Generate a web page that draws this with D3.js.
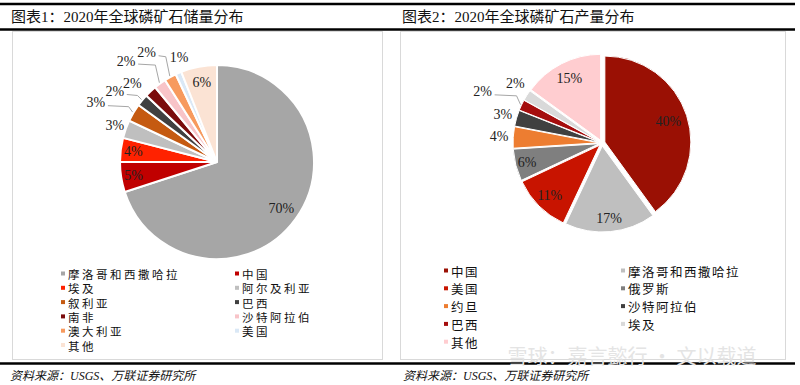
<!DOCTYPE html>
<html>
<head>
<meta charset="UTF-8">
<style>
body{ margin: 0; background: #fff; }
svg{ display: block; }
.title{ font-family: "Liberation Serif", "Noto Sans CJK SC"; font-size: 15px; fill: #111; }
.source{ font-family: "Liberation Serif", "Noto Sans CJK SC"; font-size: 12px; font-style: italic; fill: #111; }
.pct{ font-family: "Liberation Serif"; font-size: 14px; fill: #222; }
.legend text{ font-family: "Noto Sans CJK SC"; fill: #111; }
.frame{ fill: none; stroke: #d9d9d9; stroke-width: 1; }
.rule{ stroke: #000; stroke-width: 2.5; }
.leader{ fill: none; stroke: #a6a6a6; stroke-width: 1; }
.mark{ text-anchor: middle; font-family: "Noto Sans CJK SC"; font-size: 20px; fill: #e4e4e4; }
</style>
<script src="https://cdn.jsdelivr.net/npm/d3@7"></script>
</head>
<body>
<script>
// chart 1: reserves
var reserveCats = ["摩洛哥和西撒哈拉", "中国", "埃及", "阿尔及利亚", "叙利亚", "巴西", "南非", "沙特阿拉伯", "澳大利亚", "美国", "其他"];
var reserveShares = [70, 5, 4, 3, 3, 2, 2, 2, 2, 1, 6];
var reserveColors = ["#a6a6a6", "#c00000", "#ff2200", "#bfbfbf", "#c55a11", "#404040", "#7b0c0c", "#f8c4c8", "#f79a5e", "#dae8f6", "#fbe3d4"];
// label distance (x radius) and angle nudge (deg) per slice
var reserveLabelR = [0.82, 0.87, 0.87, 1.12, 1.39, 1.28, 1.19, 1.4, 1.34, 1.15, 0.83];
var reserveLabelA = [0, 0, 0, 0, -4.5, -5, -4, -6, -4, 3.5, 0];

// chart 2: output
var outputCats = ["中国", "摩洛哥和西撒哈拉", "美国", "俄罗斯", "约旦", "沙特阿拉伯", "巴西", "埃及", "其他"];
var outputShares = [40, 17, 11, 6, 4, 3, 2, 2, 15];
var outputColors = ["#9a1004", "#bfbfbf", "#c81400", "#7f7f7f", "#ed7d31", "#404040", "#a50d0d", "#d9d9d9", "#ffcdd0"];
var outputLabelR = [0.81, 0.88, 0.86, 0.9, 1.2, 1.2, 1.51, 1.22, 0.84];
var outputLabelA = [0, 0, 0, 0, 0, 0, -2, 2, 0];

var leaderMin = 1.25;

var svg = d3.select("body").append("svg")
	.attr("width", 800)
	.attr("height", 385);

// rules and frames
svg.append("line").attr("class", "rule").attr("x1", 0).attr("x2", 795).attr("y1", 4).attr("y2", 4);
svg.append("line").attr("class", "rule").attr("x1", 0).attr("x2", 795).attr("y1", 29.5).attr("y2", 29.5);
svg.append("line").attr("class", "rule").attr("x1", 0).attr("x2", 795).attr("y1", 363.5).attr("y2", 363.5);
svg.append("rect").attr("class", "frame").attr("x", 12.5).attr("y", 31.5).attr("width", 370).attr("height", 328);
svg.append("rect").attr("class", "frame").attr("x", 400.5).attr("y", 31.5).attr("width", 385).attr("height", 328);

svg.append("text").attr("class", "title").attr("x", 11).attr("y", 22).text("图表1：2020年全球磷矿石储量分布");
svg.append("text").attr("class", "title").attr("x", 402).attr("y", 22).text("图表2：2020年全球磷矿石产量分布");
svg.append("text").attr("class", "source").attr("x", 10).attr("y", 380).text("资料来源：USGS、万联证券研究所");
svg.append("text").attr("class", "source").attr("x", 403).attr("y", 380).text("资料来源：USGS、万联证券研究所");

function drawPie(opt){
	var rows = opt.cats.map(function(c, i){
		return {cat: c, value: opt.values[i], color: opt.colors[i], lr: opt.labelR[i], la: opt.labelA[i] * Math.PI / 180};
	});
	var pie = d3.pie().sort(null).value(function(d){ return d.value; });
	var arcs = pie(rows);
	var arc = d3.arc().innerRadius(0).outerRadius(opt.r);

	var g = svg.append("g")
		.attr("transform", "translate(" + opt.cx + "," + opt.cy + ")");

	function polar(a, rad){ return [Math.sin(a) * rad, -Math.cos(a) * rad]; }
	function mid(d){ return (d.startAngle + d.endAngle) / 2; }
	function labelPos(d){ return polar(mid(d) + d.data.la, d.data.lr * opt.r); }

	g.selectAll("path")
		.data(arcs)
		.enter().append("path")
		.attr("d", arc)
		.attr("fill", function(d){ return d.data.color; })
		.attr("stroke", "#fff")
		.attr("stroke-width", opt.stroke)
		.attr("transform", function(d){
			var p = polar(mid(d), opt.explode);
			return "translate(" + p[0] + "," + p[1] + ")";
		});

	// leader lines for the far labels
	g.selectAll("polyline")
		.data(arcs.filter(function(d){ return d.data.lr >= leaderMin; }))
		.enter().append("polyline")
		.attr("class", "leader")
		.attr("points", function(d){
			var s = labelPos(d);
			s = [s[0] + 12, s[1] + 3];
			var e = polar(mid(d), opt.r + opt.explode + 1);
			var m = [e[0] - 4, s[1] + 1];
			return [s, m, e].map(function(p){ return p.join(","); }).join(" ");
		});

	g.selectAll("text.pct")
		.data(arcs)
		.enter().append("text")
		.attr("class", "pct")
		.attr("text-anchor", "middle")
		.attr("dominant-baseline", "central")
		.attr("x", function(d){ return labelPos(d)[0]; })
		.attr("y", function(d){ return labelPos(d)[1]; })
		.text(function(d){ return d.value + "%"; });

	// legend, two columns filled row by row
	var lg = svg.append("g").attr("class", "legend");
	var items = lg.selectAll("g")
		.data(rows)
		.enter().append("g")
		.attr("transform", function(d, i){
			return "translate(" + opt.legendX[i % 2] + "," + (opt.legendY + Math.floor(i / 2) * opt.legendStep) + ")";
		});
	items.append("rect")
		.attr("x", 0).attr("y", -2.5)
		.attr("width", 4).attr("height", 4)
		.attr("fill", function(d){ return d.color; });
	items.append("text")
		.attr("x", 7)
		.attr("dominant-baseline", "central")
		.style("font-size", opt.legendFont + "px")
		.style("letter-spacing", (14 - opt.legendFont) + "px")
		.text(function(d){ return d.cat; });
}

drawPie({
	cats: reserveCats, values: reserveShares, colors: reserveColors, labelR: reserveLabelR, labelA: reserveLabelA,
	cx: 217, cy: 162, r: 97, explode: 0, stroke: 2,
	legendX: [61, 235], legendY: 274, legendStep: 14.3, legendFont: 11.5
});

drawPie({
	cats: outputCats, values: outputShares, colors: outputColors, labelR: outputLabelR, labelA: outputLabelA,
	cx: 602, cy: 143, r: 86, explode: 3, stroke: 1,
	legendX: [444, 621], legendY: 271, legendStep: 17.8, legendFont: 12.5
});

svg.append("text").attr("class", "mark").attr("x", 632).attr("y", 364).text("雪球：嘉言懿行 · 文以载道");
</script>
</body>
</html>
